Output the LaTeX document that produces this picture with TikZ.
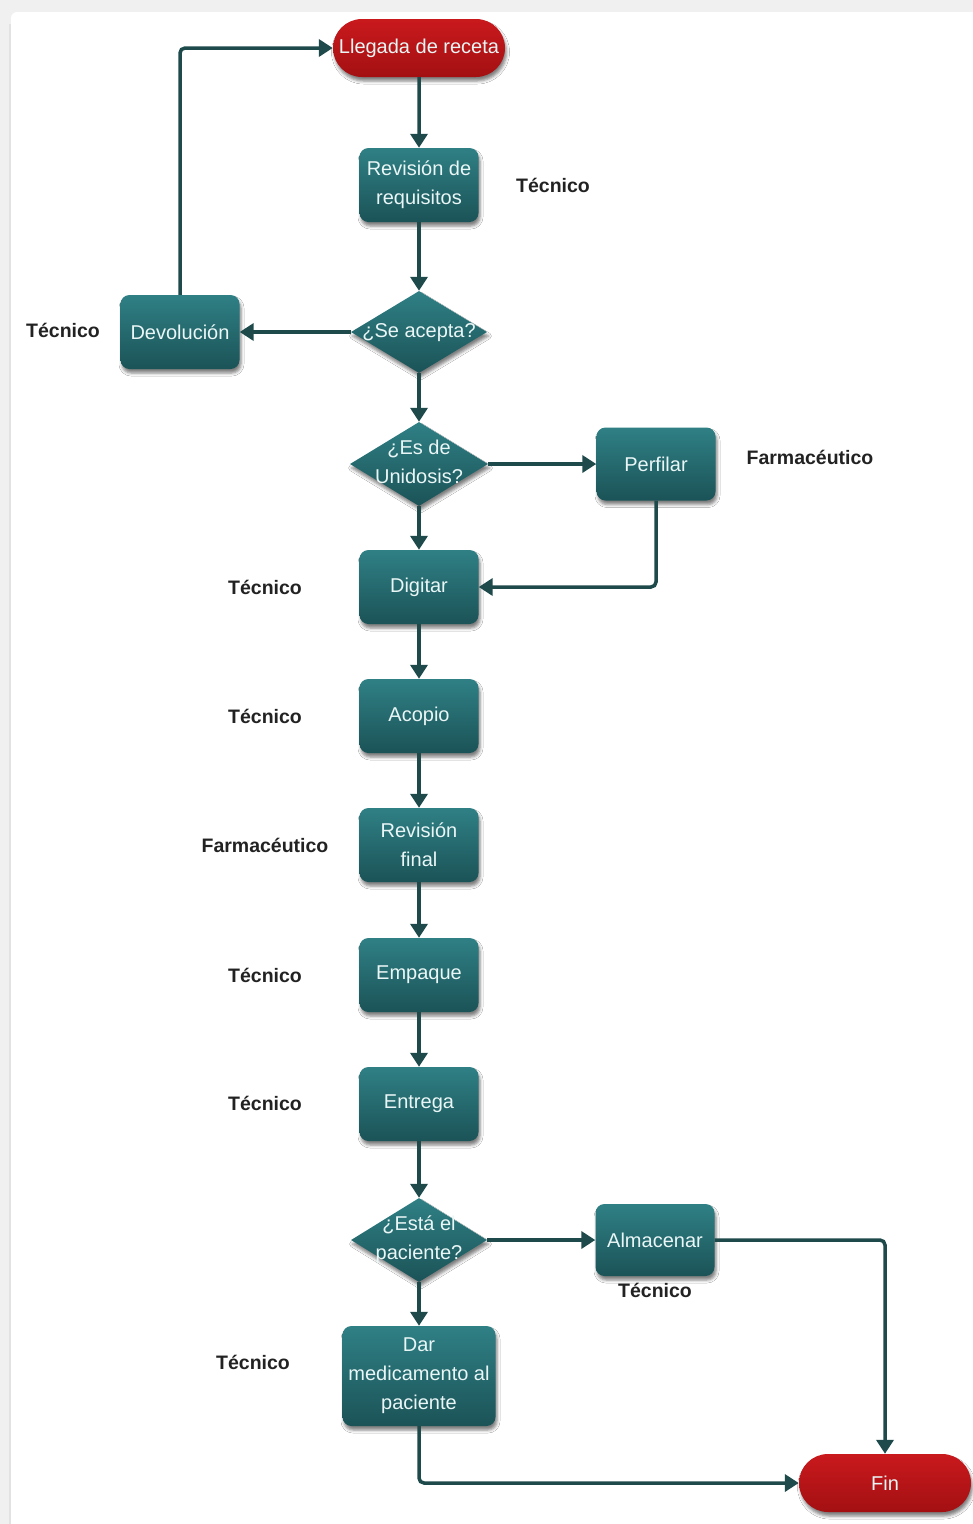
\documentclass[tikz,border=0pt]{standalone}
\usepackage{fontspec}
\setmainfont{Liberation Sans}
\usetikzlibrary{shapes.geometric,shapes.misc,arrows.meta,shadows.blur}

\definecolor{tealtop}{HTML}{2F8085}
\definecolor{tealbot}{HTML}{1B5357}
\definecolor{redtop}{HTML}{C9191D}
\definecolor{redbot}{HTML}{A31012}
\definecolor{linecol}{HTML}{1F4A4C}
\definecolor{nodetext}{HTML}{EAF6F6}
\definecolor{labeltext}{HTML}{222222}
\definecolor{framegray}{HTML}{F0F0F0}
\definecolor{frameedge}{HTML}{E2E2E2}

\newcommand{\nodefont}{\fontsize{20}{29}\selectfont}
\newcommand{\labfont}{\fontsize{19.5}{23}\selectfont\bfseries}
% text of a decision that may overflow the diamond without resizing it
\newcommand{\dtxt}[1]{\raisebox{-0.45em}{\smash{\makebox[0pt]{\begin{tabular}{@{}c@{}}#1\end{tabular}}}}}

\tikzset{
  shade/.style={blur shadow={shadow xshift=1.5pt, shadow yshift=-4pt,
      shadow opacity=50, shadow blur radius=3pt}},
  proc/.style={rectangle, rounded corners=9pt, minimum width=119pt,
      minimum height=74pt, inner sep=2pt, top color=tealtop, bottom color=tealbot,
      text=nodetext, align=center, font=\nodefont, shade},
  decision/.style={diamond, minimum width=136pt, minimum height=82pt,
      inner sep=0pt, top color=tealtop, bottom color=tealbot,
      text=nodetext, font=\nodefont, shade},
  term/.style={rounded rectangle, minimum width=172pt, minimum height=58pt,
      inner sep=0pt, top color=redtop, bottom color=redbot,
      text=nodetext, font=\nodefont, shade},
  role/.style={font=\labfont, text=labeltext},
  flow/.style={draw=linecol, line width=3.5pt, rounded corners=5pt,
      -{Triangle[length=14pt,width=17pt]}}
}

\begin{document}
\begin{tikzpicture}[x=1pt,y=-1pt]
\useasboundingbox (0,0) rectangle (973,1524);

% page frame
\fill[framegray] (0,0) rectangle (973,1524);
\begin{scope}
  \clip (0,0) rectangle (973,1524);
  \fill[white, rounded corners=6pt] (11,12) rectangle (995,1545);
  \draw[frameedge, line width=2pt] (10,24) -- (10,1524);
\end{scope}

% process steps
\node[term] (lleg) at (419,48) {Llegada de receta};
\node[proc] (rev) at (419,185) {Revisión de\\requisitos};
\node[decision] (acep) at (419,332) {\dtxt{¿Se acepta?}};
\node[proc] (dev) at (180,332) {Devolución};
\node[decision, minimum width=138pt, minimum height=84pt] (unid) at (419,464) {\dtxt{¿Es de\\Unidosis?}};
\node[proc, minimum height=73pt] (perf) at (656,464) {Perfilar};
\node[proc] (dig) at (419,587) {Digitar};
\node[proc] (acop) at (419,716) {Acopio};
\node[proc] (revf) at (419,845) {Revisión\\final};
\node[proc] (emp) at (419,975) {Empaque};
\node[proc] (ent) at (419,1104) {Entrega};
\node[decision, minimum width=136pt, minimum height=84pt] (esta) at (419,1240) {\dtxt{¿Está el\\paciente?}};
\node[proc, minimum height=72pt] (alm) at (655,1240) {Almacenar};
\node[proc, minimum width=153pt, minimum height=100pt] (dar) at (419,1376) {Dar\\medicamento al\\paciente};
\node[term] (fin) at (885,1483) {Fin};

% responsible roles
\node[role] (r1) at (553,185) {Técnico};
\node[role] (r2) at (63,330) {Técnico};
\node[role] (r3) at (810,457) {Farmacéutico};
\node[role] (r4) at (265,587) {Técnico};
\node[role] (r5) at (265,716) {Técnico};
\node[role] (r6) at (265,845) {Farmacéutico};
\node[role] (r7) at (265,975) {Técnico};
\node[role] (r8) at (265,1103) {Técnico};
\node[role] (r9) at (655,1290) {Técnico};
\node[role] (r10) at (253,1362) {Técnico};

% connectors
\draw[flow] (lleg) -- (rev);
\draw[flow] (rev) -- (acep);
\draw[flow] (acep.west) -- (dev.east);
\draw[flow] (dev.north) |- (lleg.west);
\draw[flow] (acep.south) -- (unid.north);
\draw[flow] (unid.east) -- (perf.west);
\draw[flow] (unid.south) -- (dig.north);
\draw[flow] (perf.south) |- (dig.east);
\draw[flow] (dig) -- (acop);
\draw[flow] (acop) -- (revf);
\draw[flow] (revf) -- (emp);
\draw[flow] (emp) -- (ent);
\draw[flow] (ent.south) -- (esta.north);
\draw[flow] (esta.east) -- (alm.west);
\draw[flow] (esta.south) -- (dar.north);
\draw[flow] (alm.east) -| (fin.north);
\draw[flow] (dar.south) |- (fin.west);
\end{tikzpicture}
\end{document}
